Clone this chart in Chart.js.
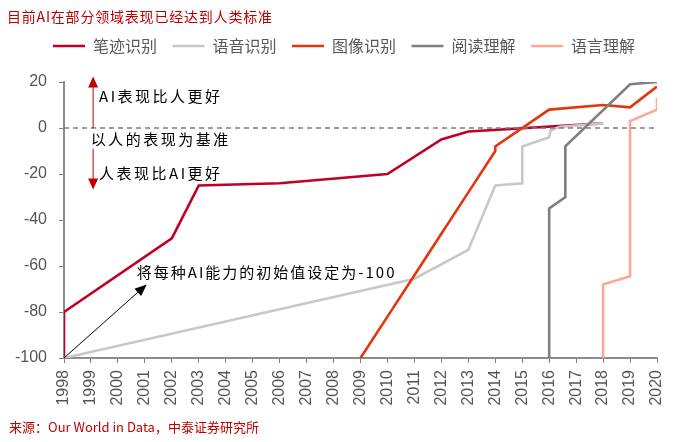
<!DOCTYPE html>
<html>
<head>
<meta charset="utf-8">
<script src="https://cdn.jsdelivr.net/npm/chart.js@4.4.0/dist/chart.umd.min.js"></script>
<style>
  html, body { margin: 0; padding: 0; background: #fff; }
</style>
</head>
<body>
<canvas id="aiChart" width="688" height="442"></canvas>
<script>
const seriesNames = ["笔迹识别", "语音识别", "图像识别", "阅读理解", "语言理解"];
const seriesColors = ["#C00028", "#C8C8C8", "#E2360F", "#7F7F7F", "#FCA898"];

// [year, score], human level = 0, first score of each skill = -100
const handwriting = [[1998, -100], [1998, -80], [2002, -48], [2003, -25], [2006, -24], [2010, -20], [2012, -5], [2013, -1.5], [2018, 2]];
const speech = [[1998, -100], [2011, -65.5], [2013, -53], [2014, -25], [2015, -24], [2015, -8], [2016, -4], [2016.05, -1], [2016.4, 0.5], [2018, 2]];
const image = [[2009, -100], [2010, -82], [2011, -64], [2012, -46], [2013, -28], [2014, -10], [2014, -8], [2016, 8], [2018, 10], [2019, 9], [2020, 18]];
const reading = [[2016, -100], [2016, -35], [2016.6, -30], [2016.6, -8], [2019, 19], [2020, 20]];
const language = [[2018, -100], [2018, -68], [2019, -64.5], [2019, 3], [2020, 8], [2020, 13]];
const baseline = [[1998, 0], [2020, 0]];

const years = [1998, 1999, 2000, 2001, 2002, 2003, 2004, 2005, 2006, 2007, 2008, 2009, 2010, 2011, 2012, 2013, 2014, 2015, 2016, 2017, 2018, 2019, 2020];
const yTicks = [20, 0, -20, -40, -60, -80, -100];

const cjk = "'Noto Sans CJK SC', sans-serif";
const latin = "'Liberation Sans', Arial, sans-serif";

const toPoints = arr => arr.map(p => ({ x: p[0], y: p[1] }));
const allSeries = [handwriting, speech, image, reading, language];

const datasets = allSeries.map((s, i) => ({
  label: seriesNames[i],
  data: toPoints(s),
  borderColor: seriesColors[i],
  backgroundColor: seriesColors[i],
  borderWidth: 2.6,
  pointRadius: 0,
  tension: 0,
  fill: false,
  order: 5 - i,
}));
datasets.push({
  label: "base",
  data: toPoints(baseline),
  borderColor: "#7F7F7F",
  borderWidth: 1.4,
  borderDash: [5, 4],
  pointRadius: 0,
  fill: false,
  order: 0,
});

function arrow(ctx, x1, y1, x2, y2, color, len, half) {
  const a = Math.atan2(y2 - y1, x2 - x1);
  ctx.strokeStyle = color;
  ctx.fillStyle = color;
  ctx.lineWidth = 1;
  ctx.beginPath();
  ctx.moveTo(x1, y1);
  ctx.lineTo(x2 - Math.cos(a) * len * 0.8, y2 - Math.sin(a) * len * 0.8);
  ctx.stroke();
  ctx.beginPath();
  ctx.moveTo(x2, y2);
  ctx.lineTo(x2 - Math.cos(a) * len + Math.sin(a) * half, y2 - Math.sin(a) * len - Math.cos(a) * half);
  ctx.lineTo(x2 - Math.cos(a) * len - Math.sin(a) * half, y2 - Math.sin(a) * len + Math.cos(a) * half);
  ctx.closePath();
  ctx.fill();
}

const decor = {
  id: "decor",
  afterDatasetsDraw(chart) {
    const { ctx, scales: { x, y } } = chart;
    ctx.save();
    // red arrows around the human baseline
    const ax = x.getPixelForValue(1999.08);
    arrow(ctx, ax, y.getPixelForValue(0), ax, y.getPixelForValue(22.4), "#C00000", 11, 5);
    arrow(ctx, ax, y.getPixelForValue(-9), ax, y.getPixelForValue(-26.7), "#C00000", 11, 5);
    // black arrow from start point
    arrow(ctx, x.getPixelForValue(1998), y.getPixelForValue(-100),
      x.getPixelForValue(2001.07), y.getPixelForValue(-68), "#000000", 12, 5);

    ctx.fillStyle = "#000000";
    ctx.textBaseline = "middle";
    ctx.textAlign = "left";
    ctx.font = "15px " + cjk;
    ctx.letterSpacing = "2.5px";
    ctx.fillText("AI表现比人更好", x.getPixelForValue(1999.3), y.getPixelForValue(13.7));
    ctx.fillText("以人的表现为基准", x.getPixelForValue(1998.99), y.getPixelForValue(-5));
    ctx.fillText("人表现比AI更好", x.getPixelForValue(1999.3), y.getPixelForValue(-19.8));
    ctx.letterSpacing = "2px";
    ctx.fillText("将每种AI能力的初始值设定为-100", x.getPixelForValue(2000.7), y.getPixelForValue(-62.7));
    ctx.restore();
  },
  afterDraw(chart) {
    const ctx = chart.ctx;
    ctx.save();
    ctx.fillStyle = "#C00000";
    ctx.textBaseline = "middle";
    ctx.textAlign = "left";
    ctx.font = "14px " + cjk;
    ctx.letterSpacing = "0.8px";
    ctx.fillText("目前AI在部分领域表现已经达到人类标准", 7, 17);
    ctx.font = "13px " + cjk;
    ctx.letterSpacing = "0px";
    ctx.fillText("来源：Our World in Data，中泰证券研究所", 9, 427);
    ctx.restore();
  },
};

new Chart(document.getElementById("aiChart"), {
  type: "line",
  data: { datasets },
  options: {
    responsive: false,
    animation: false,
    layout: { padding: { top: 22.5, left: 0, right: 0, bottom: 0 } },
    plugins: {
      legend: {
        position: "top",
        align: "center",
        labels: {
          usePointStyle: true,
          pointStyle: "line",
          pointStyleWidth: 32,
          font: { family: cjk, size: 16 },
          color: "#595959",
          padding: 15.5,
          filter: item => item.text !== "base",
          sort: (a, b) => a.datasetIndex - b.datasetIndex,
        },
      },
      tooltip: { enabled: false },
    },
    scales: {
      x: {
        type: "linear",
        min: 1998,
        max: 2020,
        afterBuildTicks: s => { s.ticks = years.map(v => ({ value: v })); },
        afterFit: s => { s.height = 84; },
        ticks: {
          autoSkip: false,
          minRotation: 90,
          maxRotation: 90,
          padding: 7,
          color: "#555555",
          font: { family: latin, size: 16 },
          callback: v => String(v),
        },
        grid: { drawOnChartArea: false, drawTicks: true, tickLength: 5, color: "#808080" },
        border: { color: "#8C8C8C", width: 2 },
      },
      top: {
        type: "linear",
        position: "top",
        display: true,
        ticks: { display: false },
        grid: { display: false },
        border: { display: false },
        afterFit: s => { s.height = 18; },
      },
      y: {
        min: -100,
        max: 20,
        afterBuildTicks: s => { s.ticks = yTicks.map(v => ({ value: v })); },
        afterFit: s => { s.width = 64; },
        ticks: {
          padding: 12,
          color: "#555555",
          font: { family: latin, size: 16 },
          callback: v => String(v),
        },
        grid: { drawOnChartArea: false, drawTicks: true, tickLength: 5, color: "#808080" },
        border: { color: "#8C8C8C", width: 2 },
      },
      right: {
        position: "right",
        display: true,
        ticks: { display: false },
        grid: { display: false },
        border: { display: false },
        afterFit: s => { s.width = 31; },
      },
    },
  },
  plugins: [decor],
});
</script>
</body>
</html>
